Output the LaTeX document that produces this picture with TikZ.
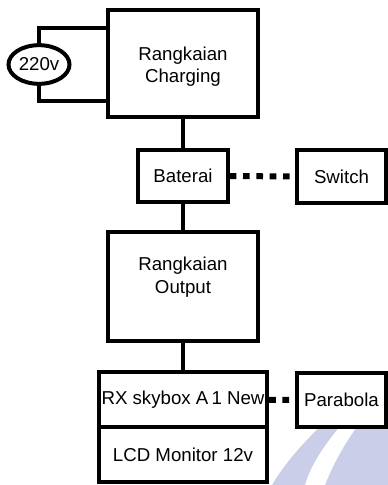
\documentclass[tikz,border=0pt]{standalone}
\usepackage{fontspec}
\setmainfont{Liberation Sans}
\usepackage{tikz}
\usetikzlibrary{shapes,arrows,positioning,calc}
\definecolor{wmark}{RGB}{202,206,232}
\tikzset{
  teks/.style={align=center,font=\fontsize{14}{17}\selectfont},
  blok/.style={rectangle,draw,line width=3pt,fill=white,inner sep=2pt,teks},
  kabel/.style={line width=3pt},
  titik/.style={line width=4.5pt,dash pattern=on 5pt off 5pt}
}

\begin{document}
\begin{tikzpicture}[x=0.75pt,y=-0.75pt]
      \useasboundingbox (0,0) rectangle (388,485);
      \fill[wmark] (272,485) .. controls (288,458) and (310,436) .. (333,414)
        -- (350,414) .. controls (330,438) and (312,460) .. (305,485) -- cycle;
      \fill[wmark] (325,485) .. controls (335,460) and (348,438) .. (365,416)
        -- (388,395) -- (388,485) -- cycle;
      \node[blok,minimum width=112.5pt,minimum height=80.25pt,
      label={[teks,yshift=-2.5pt]center:Rangkaian\\Charging}] (charging) at (183,63.5) {};
      \node[ellipse,draw,line width=3pt,minimum width=44pt,minimum height=29pt,inner sep=1pt,
      font=\fontsize{14}{16}\selectfont] (sumber) at (39,64.5) {220v};
      \node[blok,minimum width=67pt,minimum height=39pt] (baterai) at (183,176) {Baterai};
      \node[blok,minimum width=66.75pt,minimum height=39.75pt] (switch) at (341.5,176.5) {Switch};
      \node[blok,minimum width=112.5pt,minimum height=81.75pt,
      label={[teks,yshift=7pt]center:Rangkaian\\Output}] (output) at (183,286.5) {};
      \node[blok,minimum width=126pt,minimum height=41.25pt] (rx) at (183,399.5) {RX skybox A\,1 New};
      \node[blok,minimum width=126pt,minimum height=41.25pt] (lcd) at (183,454.5) {LCD Monitor 12v};
      \node[blok,minimum width=66.75pt,minimum height=40.5pt] (parabola) at (341.5,400) {Parabola};
      \draw[kabel] (sumber.north) |- ($(charging.north west)!0.18!(charging.south west)$);
      \draw[kabel] (sumber.south) |- ($(charging.north west)!0.84!(charging.south west)$);
      \draw[kabel] (charging) -- (baterai);
      \draw[kabel] (baterai) -- (output);
      \draw[kabel] (output) -- (rx);
      \draw[titik] (baterai) -- (switch);
      \draw[titik] (rx) -- (parabola);
    \end{tikzpicture}
\end{document}
